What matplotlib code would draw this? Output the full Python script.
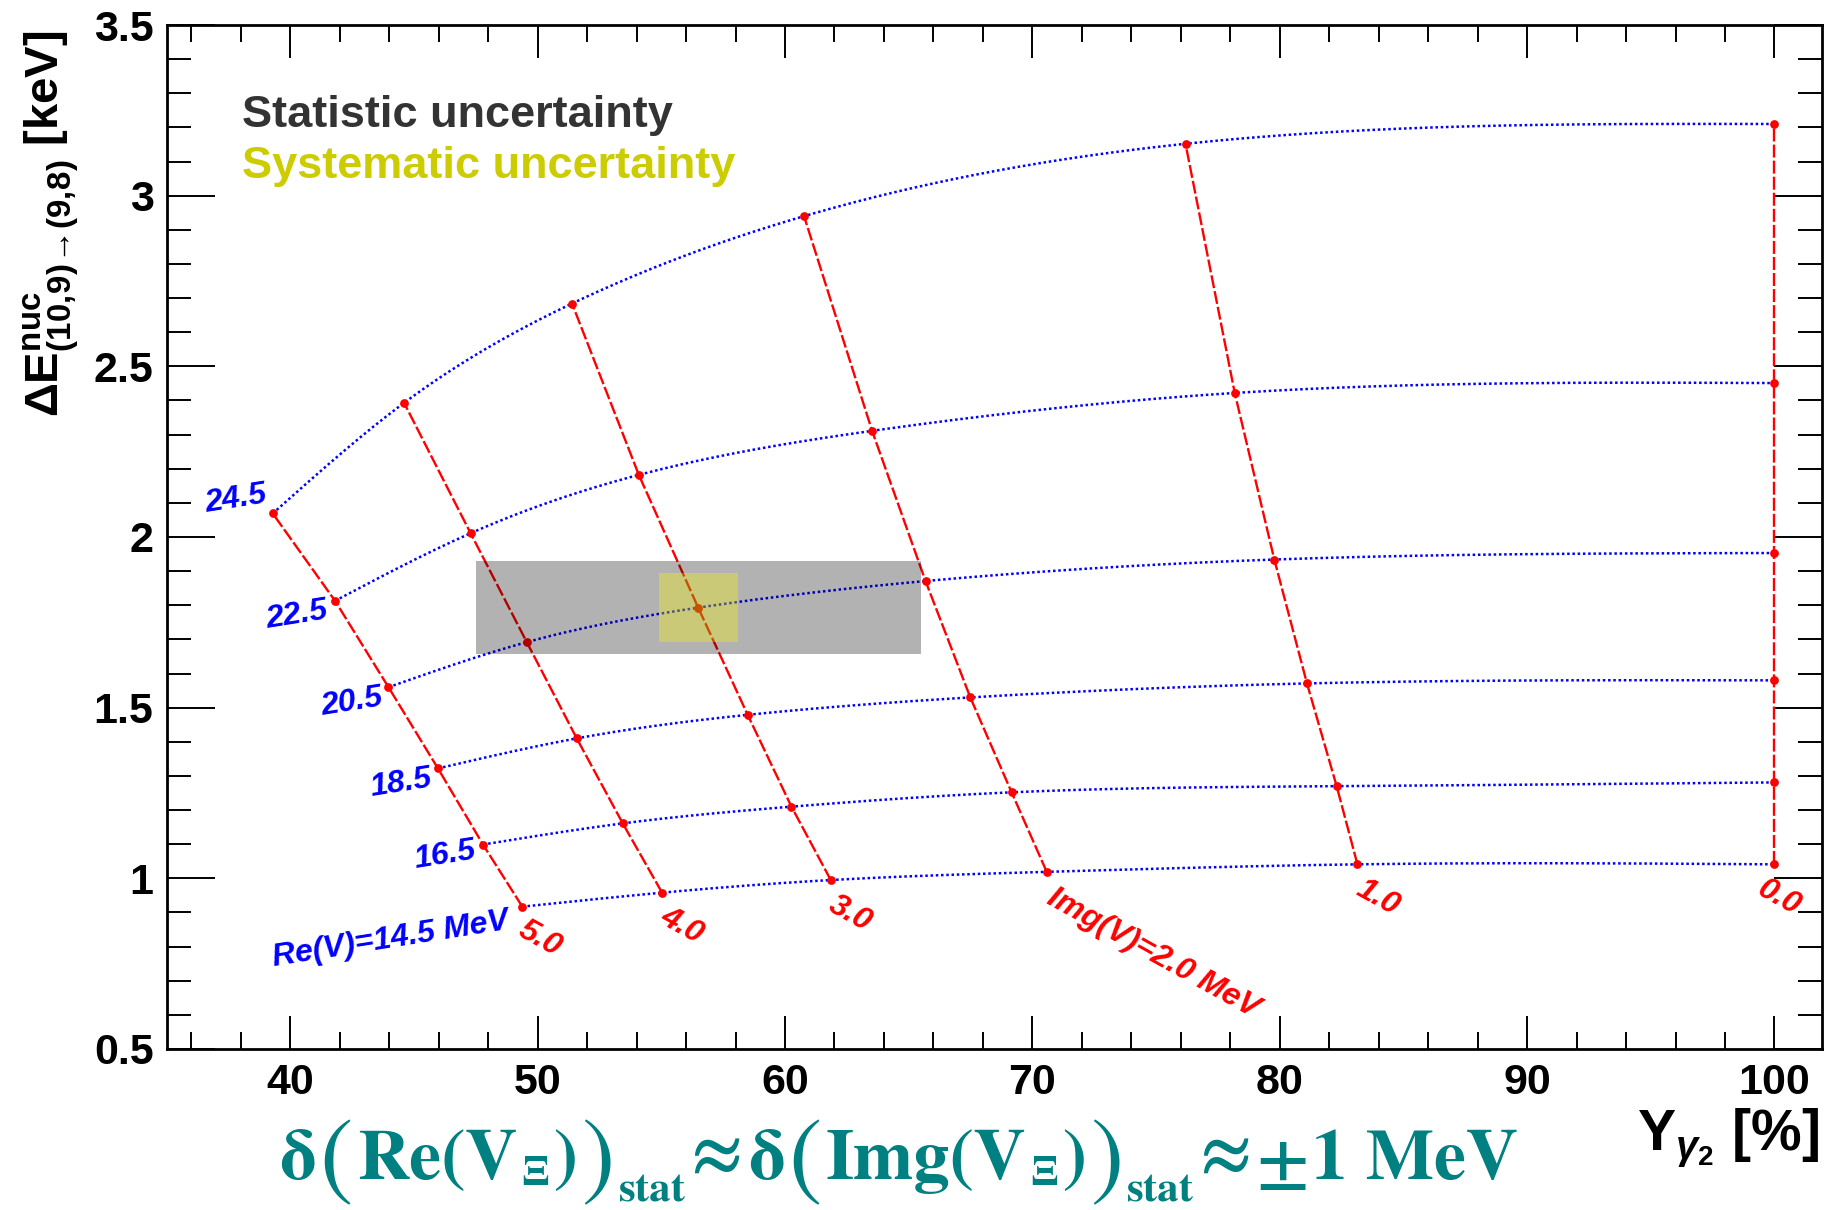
import numpy as np
import matplotlib
matplotlib.use("Agg")
import matplotlib.pyplot as plt
from matplotlib.patches import Rectangle
from matplotlib.ticker import FormatStrFormatter

# ---------------- data ----------------
re_values = [14.5, 16.5, 18.5, 20.5, 22.5, 24.5]      # Re(V) [MeV], one blue curve each
img_values = [5.0, 4.0, 3.0, 2.0, 1.0, 0.0]           # Img(V) [MeV], one red line each

# Y_gamma2 [%] and Delta E [keV] along each Re(V) row, columns ordered as img_values
yg_145 = [49.38, 55.03, 61.85, 70.58, 83.14, 100.0]
dE_145 = [0.917, 0.958, 0.995, 1.019, 1.041, 1.041]
yg_165 = [47.79, 53.44, 60.26, 69.16, 82.30, 100.0]
dE_165 = [1.099, 1.161, 1.210, 1.252, 1.270, 1.281]
yg_185 = [45.97, 51.58, 58.49, 67.49, 81.10, 100.0]
dE_185 = [1.322, 1.410, 1.479, 1.530, 1.571, 1.580]
yg_205 = [43.97, 49.56, 56.49, 65.68, 79.78, 100.0]
dE_205 = [1.560, 1.692, 1.793, 1.871, 1.934, 1.953]
yg_225 = [41.81, 47.29, 54.09, 63.52, 78.18, 100.0]
dE_225 = [1.813, 2.011, 2.182, 2.311, 2.422, 2.451]
yg_245 = [39.29, 44.60, 51.39, 60.77, 76.19, 100.0]
dE_245 = [2.069, 2.393, 2.684, 2.940, 3.152, 3.210]

# measured point with its uncertainty boxes
meas_yg = 56.49
meas_dE = 1.793
stat_yg = 9.0
stat_dE = 0.137
sys_yg = 1.59
sys_dE = 0.101

x_ticks = [40, 50, 60, 70, 80, 90, 100]
y_ticks = [0.5, 1.0, 1.5, 2.0, 2.5, 3.0, 3.5]

re_labels = ["Re(V)=14.5 MeV", "16.5", "18.5", "20.5", "22.5", "24.5"]
img_labels = ["5.0", "4.0", "3.0", "Img(V)=2.0 MeV", "1.0", "0.0"]
# label anchor positions (data coords)
re_lab_x = [44.05, 46.27, 44.48, 42.48, 40.27, 37.79]
re_lab_y = [0.821, 1.068, 1.278, 1.515, 1.771, 2.111]
img_lab_x = [50.09, 55.83, 62.64, 74.89, 83.95, 100.17]
img_lab_y = [0.822, 0.860, 0.896, 0.779, 0.942, 0.944]

grid_x = np.array([yg_145, yg_165, yg_185, yg_205, yg_225, yg_245])
grid_y = np.array([dE_145, dE_165, dE_185, dE_205, dE_225, dE_245])


def natural_spline(x, y, xs):
    x = np.asarray(x, float)
    y = np.asarray(y, float)
    n = len(x)
    h = np.diff(x)
    A = np.zeros((n, n))
    b = np.zeros(n)
    A[0, 0] = 1.0
    A[-1, -1] = 1.0
    for i in range(1, n - 1):
        A[i, i - 1] = h[i - 1]
        A[i, i] = 2 * (h[i - 1] + h[i])
        A[i, i + 1] = h[i]
        b[i] = 3 * ((y[i + 1] - y[i]) / h[i] - (y[i] - y[i - 1]) / h[i - 1])
    c = np.linalg.solve(A, b)
    bb = (y[1:] - y[:-1]) / h - h * (2 * c[:-1] + c[1:]) / 3
    d = (c[1:] - c[:-1]) / (3 * h)
    idx = np.clip(np.searchsorted(x, xs) - 1, 0, n - 2)
    t = xs - x[idx]
    return y[idx] + bb[idx] * t + c[idx] * t ** 2 + d[idx] * t ** 3


# ---------------- style ----------------
plt.rcParams["font.family"] = ["Liberation Sans", "DejaVu Sans"]
plt.rcParams["font.weight"] = "bold"
plt.rcParams["mathtext.fontset"] = "custom"
plt.rcParams["mathtext.rm"] = "Liberation Sans:bold"
plt.rcParams["mathtext.bf"] = "Liberation Sans:bold"
plt.rcParams["mathtext.it"] = "Liberation Sans:bold:italic"
plt.rcParams["mathtext.sf"] = "Liberation Sans:bold"

W, H = 1828, 1210
fig = plt.figure(figsize=(W / 100, H / 100), dpi=100)
L, R, T, B = 166.6, 1821.5, 25, 1049
ax = fig.add_axes([L / W, 1 - B / H, (R - L) / W, (B - T) / H])
ax.set_xlim(35, 101.9)
ax.set_ylim(0.5, 3.5)

blue = "#0000ff"
red = "#ff0000"

# blue smooth dotted curves (constant Re(V))
for k in range(len(re_values)):
    xs = np.linspace(grid_x[k, 0], grid_x[k, -1], 600)
    ys = natural_spline(grid_x[k], grid_y[k], xs)
    ax.plot(xs, ys, color=blue, lw=1.8, ls=(0, (1, 1.1)), zorder=2,
            dash_capstyle="butt")

# red dashed lines (constant Img(V))
for j in range(len(img_values)):
    ax.plot(grid_x[:, j], grid_y[:, j], color=red, lw=1.7, ls=(0, (5.5, 1.3)),
            zorder=3)

ax.plot(grid_x.ravel(), grid_y.ravel(), "o", color=red, ms=6.3, mec="none",
        zorder=4)

# uncertainty boxes
ax.add_patch(Rectangle((meas_yg - stat_yg, meas_dE - stat_dE), 2 * stat_yg,
                       2 * stat_dE, facecolor="black", alpha=0.3, lw=0,
                       zorder=5))
ax.add_patch(Rectangle((meas_yg - sys_yg, meas_dE - sys_dE), 2 * sys_yg,
                       2 * sys_dE, facecolor=(0.98, 0.98, 0.0), alpha=0.32,
                       lw=0, zorder=6))

# curve labels
for k in range(len(re_labels)):
    ax.text(re_lab_x[k], re_lab_y[k], re_labels[k], color=blue, fontsize=23,
            fontweight="bold", fontstyle="italic", rotation=9,
            rotation_mode="anchor", ha="center", va="center", zorder=7)
for j in range(len(img_labels)):
    ax.text(img_lab_x[j], img_lab_y[j], img_labels[j], color=red, fontsize=23,
            fontweight="bold", fontstyle="italic", rotation=-29,
            rotation_mode="anchor", ha="center", va="center", zorder=7)

# axes / ticks
for s in ax.spines.values():
    s.set_linewidth(2.0)
ax.set_xticks(x_ticks)
ax.set_xticks(np.arange(36, 102, 2), minor=True)
ax.set_yticks(y_ticks)
ax.set_yticks(np.arange(0.5, 3.501, 0.1), minor=True)
ax.xaxis.set_major_formatter(FormatStrFormatter("%g"))
ax.yaxis.set_major_formatter(FormatStrFormatter("%g"))
ax.tick_params(axis="x", which="major", direction="in", length=23.8, width=1.4,
               top=True, bottom=True, pad=10, labelsize=31)
ax.tick_params(axis="x", which="minor", direction="in", length=12.2, width=1.4,
               top=True, bottom=True)
ax.tick_params(axis="y", which="major", direction="in", length=34.5, width=1.4,
               left=True, right=True, pad=9.4, labelsize=31)
ax.tick_params(axis="y", which="minor", direction="in", length=17.3, width=1.4,
               left=True, right=True)
for lab in ax.get_xticklabels() + ax.get_yticklabels():
    lab.set_fontweight("bold")

# axis titles
fig.text(51.5 / W, 1 - 30 / H,
         r"$\Delta\mathbf{E}^{\mathbf{nuc}}_{\mathbf{(10,\!9)\!\rightarrow\!(9,\!8)}}$ [keV]",
         rotation=90, ha="center", va="top", fontsize=34, fontweight="bold")
fig.text(1819 / W, 1 - 1150 / H, r"$\mathbf{Y}_{\gamma_{\mathbf{2}}}$ [%]",
         ha="right", va="baseline", fontsize=41, fontweight="bold")

# legend texts
fig.text(241.7 / W, 1 - 127 / H, "Statistic uncertainty", color="#333333",
         fontsize=32.5, fontweight="bold", ha="left", va="baseline")
fig.text(241.7 / W, 1 - 178 / H, "Systematic uncertainty", color="#cccc00",
         fontsize=32.5, fontweight="bold", ha="left", va="baseline")

# bottom annotation, laid out piece by piece (big parentheses, subscripts)
teal = "#008080"
MAIN, SUB, PAREN = 52, 31, 72
pieces = [
    ("\u03b4", MAIN, "bold", 0, "t"),
    ("(", PAREN, "normal", 0, "p"),
    ("Re(V", MAIN, "bold", 0, "t"),
    ("\u039e", SUB, "bold", 6, "t"),
    (")", MAIN, "bold", 0, "t"),
    (")", PAREN, "normal", 0, "p"),
    ("stat", SUB, "bold", 22, "t"),
    ("\u2248", MAIN, "bold", -4, "t"),
    ("\u03b4", MAIN, "bold", 0, "t"),
    ("(", PAREN, "normal", 0, "p"),
    ("Img(V", MAIN, "bold", 0, "t"),
    ("\u039e", SUB, "bold", 6, "t"),
    (")", MAIN, "bold", 0, "t"),
    (")", PAREN, "normal", 0, "p"),
    ("stat", SUB, "bold", 22, "t"),
    ("\u2248", MAIN, "bold", -4, "t"),
    ("\u00b11 MeV", MAIN, "bold", 0, "t"),
]
renderer = fig.canvas.get_renderer()
gap = 4.0
objs = []
xcur = 0.0
for s, size, wt, dy, kind in pieces:
    t = fig.text(0, 0, s, fontsize=size, fontweight=wt, family="STIXGeneral",
                 color=teal, ha="left",
                 va="center" if kind == "p" else "baseline")
    w = t.get_window_extent(renderer).width
    objs.append((t, xcur, dy, kind))
    xcur += w + gap
total = xcur - gap
x_center, base_y, paren_cy = 899.0, 1179.0, 1164.0
x0 = x_center - total / 2
for t, xo, dy, kind in objs:
    ypx = paren_cy if kind == "p" else base_y + dy
    t.set_position(((x0 + xo) / W, 1 - ypx / H))

fig.savefig("out.png", dpi=100)
